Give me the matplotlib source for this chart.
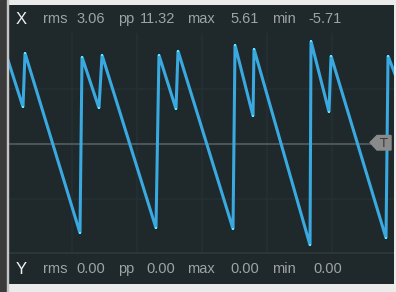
import numpy as np
import matplotlib
matplotlib.use('Agg')
import matplotlib.pyplot as plt
from matplotlib.patches import Rectangle, Polygon

# waveform (time in divisions, value in volts)
t = [0.0, 0.246, 0.277, 1.123, 1.154, 1.415, 1.462, 2.292, 2.338, 2.600,
     2.631, 3.477, 3.508, 3.785, 3.800, 4.662, 4.677, 4.954, 4.985, 5.831,
     5.862, 5.985]
v = [4.86, 2.05, 5.08, -5.03, 4.86, 1.99, 4.97, -4.75, 4.97, 1.94,
     5.20, -4.80, 5.53, 1.54, 5.31, -5.71, 5.75, 1.77, 4.92, -5.31,
     4.92, 3.74]

x_labels = ['X', 'rms', '3.06', 'pp', '11.32', 'max', '5.61', 'min', '-5.71']
y_labels = ['Y', 'rms', '0.00', 'pp', '0.00', 'max', '0.00', 'min', '0.00']
label_x = [16, 43, 76, 118, 140, 187, 230, 272, 308]
y_label_x = [16, 43, 76, 118, 146, 187, 230, 272, 313]

W, H = 396, 292
fig = plt.figure(figsize=(W / 100, H / 100), dpi=100)
fig.patch.set_facecolor('#ebebeb')

# px -> data mapping: t = (px-7)/65, v = (143.5-py)/17.8
px0, px1, py0, py1 = 8, 394, 5, 284
ax = fig.add_axes([px0 / W, 1 - py1 / H, (px1 - px0) / W, (py1 - py0) / H])
ax.set_facecolor('#1f282b')
ax.set_xlim((px0 - 7) / 65, (px1 - 7) / 65)
ax.set_ylim((143.5 - py1) / 17.8, (143.5 - py0) / 17.8)
for s in ax.spines.values():
    s.set_visible(False)
ax.set_xticks([])
ax.set_yticks([])

top = 109.5 / 17.8
for k in range(1, 6):
    ax.plot([k, k], [-top, top], color='#253034', lw=1.2, zorder=1)
for yy in [55 / 17.8, -55 / 17.8]:
    ax.axhline(yy, color='#253034', lw=1.2, zorder=1)
ax.axhline(-top, color='#2b3639', lw=1.5, zorder=1)
ax.plot([0, (370 - 7) / 65], [0, 0], color='#4b5457', lw=1.5, zorder=1)

ax.plot(t, v, color='#3aa9e0', lw=2.2, zorder=3, solid_joinstyle='miter')
ax.plot(t[1:-1], v[1:-1], 's', color='#58e8fc', ms=2.0, mew=0, zorder=4)

# overlay in pixel coordinates
ov = fig.add_axes([0, 0, 1, 1])
ov.set_xlim(0, W)
ov.set_ylim(H, 0)
ov.axis('off')
ov.patch.set_alpha(0)
ov.add_patch(Rectangle((0, 0), 6.5, H, color='#3a3a3a'))
ov.add_patch(Rectangle((6.5, 0), 1.5, H, color='#c4c4c4'))
ov.add_patch(Polygon([(370, 142.5), (377, 135.5), (391, 135.5), (391, 150), (377, 150)],
                     closed=True, color='#8a8a8a', zorder=5))
ov.text(384, 143.5, 'T', color='#3a3a3a', fontsize=9, ha='center', va='center', zorder=6)

fam = ['Liberation Sans', 'DejaVu Sans']
for i, (lab, lx) in enumerate(zip(x_labels, label_x)):
    ov.text(lx, 19, lab, color='#f0f0f0' if i == 0 else '#9ea4a6',
            fontsize=12 if i == 0 else 10.5, family=fam, ha='left', va='center')
for i, (lab, lx) in enumerate(zip(y_labels, y_label_x)):
    ov.text(lx, 269, lab, color='#f0f0f0' if i == 0 else '#9ea4a6',
            fontsize=12 if i == 0 else 10.5, family=fam, ha='left', va='center')

fig.savefig('out.png', dpi=100, facecolor=fig.get_facecolor())
